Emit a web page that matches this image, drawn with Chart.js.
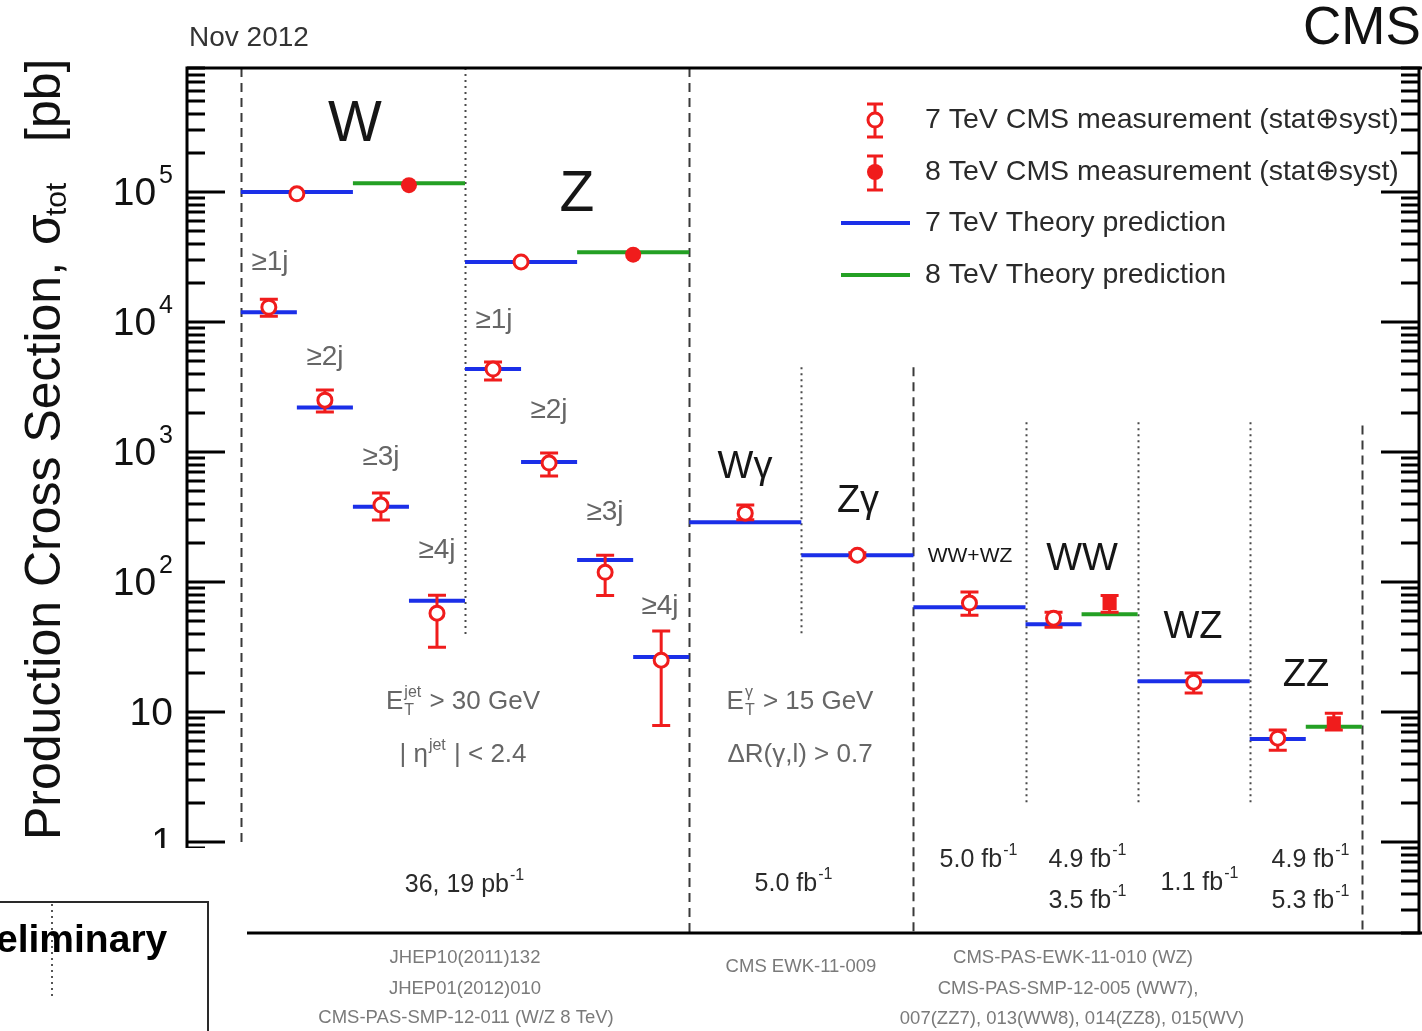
<!DOCTYPE html>
<html>
<head>
<meta charset="utf-8">
<title>CMS production cross sections - Nov 2012</title>
<script src="https://cdn.jsdelivr.net/npm/chart.js@4.4.1/dist/chart.umd.min.js"></script>
<style>
  html, body { margin: 0; padding: 0; background: #fff; }
  #wrap { width: 1422px; height: 1031px; }
</style>
</head>
<body>
<div id="wrap"><canvas id="xsec" width="1422" height="1031"></canvas></div>
<script>
// --------------------
// Data (pb), category axis: one unit per process block
// --------------------

// 7 TeV theory predictions: segment start / end on the category axis, value
const th7Start = [0, 0, 0.5, 1, 1.5, 2, 2, 2.5, 3, 3.5, 4, 5, 6, 7, 8, 9];
const th7End   = [1, 0.5, 1, 1.5, 2, 3, 2.5, 3, 3.5, 4, 5, 6, 7, 7.5, 9, 9.5];
const th7Value = [1.0e5, 1.19e4, 2.2e3, 380, 72, 2.9e4, 4.35e3, 838, 148, 26.5, 289, 161, 64, 47.5, 17.3, 6.2];

// 8 TeV theory predictions
const th8Start = [1, 3, 7.5, 9.5];
const th8End   = [2, 4, 8, 10];
const th8Value = [1.17e5, 3.45e4, 56.7, 7.7];

// 7 TeV CMS measurements (stat+syst)
const m7X    = [0.5, 0.25, 0.75, 1.25, 1.75, 2.5, 2.25, 2.75, 3.25, 3.75, 4.5, 5.5, 6.5, 7.25, 8.5, 9.25];
const m7Val  = [9.7e4, 1.30e4, 2.51e3, 391, 57.7, 2.9e4, 4.35e3, 823, 119, 25.1, 339, 161, 69, 52.8, 17.0, 6.3];
const m7Low  = [9.7e4, 1.11e4, 2.03e3, 300, 31.6, 2.9e4, 3.58e3, 654, 79, 7.9, 302, 155, 55.7, 45, 14, 5.1];
const m7High = [9.7e4, 1.50e4, 3.0e3, 484, 79.4, 2.9e4, 4.92e3, 982, 161, 42, 391, 168, 83.8, 58.7, 20, 7.3];

// 8 TeV CMS measurements (stat+syst)
const m8X    = [1.5, 3.5, 7.75, 9.75];
const m8Val  = [1.13e5, 3.3e4, 69, 8.2];
const m8Low  = [1.13e5, 3.3e4, 58.7, 7.3];
const m8High = [1.13e5, 3.3e4, 79, 9.8];
const m8Shape = ["circle", "circle", "rect", "rect"];

// y axis decades
const tickValues = [1, 10, 100, 1e3, 1e4, 1e5];
const tickBase   = ["1", "10", "10", "10", "10", "10"];
const tickExp    = ["", "", "2", "3", "4", "5"];

// block separators: category position, extent in pb, style
const sepX    = [0, 2, 4, 5, 6, 7, 8, 9, 10];
const sepFrom = [0.2, 39, 0.2, 39, 0.2, 1.93, 1.93, 1.93, 0.2];
const sepTo   = [9e5, 9e5, 9e5, 4.5e3, 4.5e3, 1.7e3, 1.7e3, 1.7e3, 1.6e3];
const sepKind = ["dash", "dot", "dash", "dot", "dash", "dot", "dot", "dot", "dash"];

const FONT = "'Liberation Sans', Arial, Helvetica, sans-serif";
const RED = "#f01c1c";
const BLUE = "#1b2fe8";
const GREEN = "#24a024";

// build line-segment data with gaps
function segments(starts, ends, values) {
    const pts = [];
    starts.forEach((s, i) => {
        pts.push({ x: s, y: values[i] });
        pts.push({ x: ends[i], y: values[i] });
        pts.push({ x: ends[i], y: null });
    });
    return pts;
}

// text with super/subscripts; parts are strings or {sup, sub}
function drawRich(ctx, parts, x, y, size, align, color, weight) {
    const small = Math.round(size * 0.62);
    const w = weight || "normal";
    const widths = parts.map(p => {
        if (typeof p === "string") {
            ctx.font = `${w} ${size}px ${FONT}`;
            return ctx.measureText(p).width;
        }
        ctx.font = `${w} ${small}px ${FONT}`;
        const a = p.sup ? ctx.measureText(p.sup).width : 0;
        const b = p.sub ? ctx.measureText(p.sub).width : 0;
        return Math.max(a, b) + 2;
    });
    const total = widths.reduce((a, b) => a + b, 0);
    let cx = align === "center" ? x - total / 2 : align === "right" ? x - total : x;
    ctx.fillStyle = color;
    ctx.textAlign = "left";
    ctx.textBaseline = "middle";
    parts.forEach((p, i) => {
        if (typeof p === "string") {
            ctx.font = `${w} ${size}px ${FONT}`;
            ctx.fillText(p, cx, y);
        } else {
            ctx.font = `${w} ${small}px ${FONT}`;
            if (p.sup) ctx.fillText(p.sup, cx + 1, y - size * 0.36);
            if (p.sub) ctx.fillText(p.sub, cx + 1, y + size * 0.32);
        }
        cx += widths[i];
    });
}

function errorBar(ctx, x, yTop, yBot, cap) {
    ctx.beginPath();
    ctx.moveTo(x, yTop); ctx.lineTo(x, yBot);
    ctx.moveTo(x - cap, yTop); ctx.lineTo(x + cap, yTop);
    ctx.moveTo(x - cap, yBot); ctx.lineTo(x + cap, yBot);
    ctx.stroke();
}

// --------------------
// Plugin: frame, ticks, separators, error bars, annotations
// --------------------
const cmsDecor = {
    id: "cmsDecor",

    beforeDatasetsDraw(chart) {
        const ctx = chart.ctx;
        const xs = chart.scales.x, ys = chart.scales.y;
        ctx.save();
        sepX.forEach((v, i) => {
            const px = Math.round(xs.getPixelForValue(v)) + 0.5;
            ctx.beginPath();
            if (sepKind[i] === "dash") {
                ctx.setLineDash([9, 6]);
                ctx.strokeStyle = "#3a3a3a";
                ctx.lineWidth = 2;
            } else {
                ctx.setLineDash([2, 4]);
                ctx.strokeStyle = "#4a4a4a";
                ctx.lineWidth = 2;
            }
            ctx.moveTo(px, ys.getPixelForValue(sepTo[i]));
            ctx.lineTo(px, ys.getPixelForValue(sepFrom[i]));
            ctx.stroke();
        });
        ctx.restore();
    },

    afterDatasetDraw(chart, args) {
        if (args.meta.label !== "8 TeV Theory prediction") return;
        const ctx = chart.ctx;
        const xs = chart.scales.x, ys = chart.scales.y;
        ctx.save();
        ctx.strokeStyle = RED;
        ctx.lineWidth = 3;
        m7X.forEach((v, i) => {
            if (m7Low[i] === m7High[i]) return;
            errorBar(ctx, xs.getPixelForValue(v), ys.getPixelForValue(m7High[i]), ys.getPixelForValue(m7Low[i]), 9);
        });
        m8X.forEach((v, i) => {
            if (m8Low[i] === m8High[i]) return;
            errorBar(ctx, xs.getPixelForValue(v), ys.getPixelForValue(m8High[i]), ys.getPixelForValue(m8Low[i]), 9);
        });
        ctx.restore();
    },

    afterDraw(chart) {
        const ctx = chart.ctx;
        const ys = chart.scales.y;
        const a = chart.chartArea;
        ctx.save();

        // ROOT style ticks on both sides
        ctx.strokeStyle = "#000";
        ctx.lineWidth = 3;
        ctx.beginPath();
        for (let e = -1; e <= 5; e++) {
            for (let m = 1; m <= 9; m++) {
                const v = m * Math.pow(10, e);
                if (v < ys.min || v > ys.max) continue;
                const py = Math.round(ys.getPixelForValue(v));
                const len = m === 1 ? 38 : 18;
                ctx.moveTo(a.left, py); ctx.lineTo(a.left + len, py);
                ctx.moveTo(a.right, py); ctx.lineTo(a.right - len, py);
            }
        }
        ctx.stroke();

        // frame
        ctx.lineWidth = 3;
        ctx.strokeRect(a.left, a.top, a.right - a.left, a.bottom - a.top);
        ctx.beginPath();
        ctx.moveTo(a.right, a.top); ctx.lineTo(1422, a.top);
        ctx.moveTo(a.right, a.bottom); ctx.lineTo(1422, a.bottom);
        ctx.stroke();

        // y tick labels
        tickValues.forEach((v, i) => {
            const py = ys.getPixelForValue(v);
            let right = 173;
            if (tickExp[i]) {
                ctx.font = `25px ${FONT}`;
                const ew = ctx.measureText(tickExp[i]).width;
                ctx.fillStyle = "#111";
                ctx.textAlign = "left";
                ctx.textBaseline = "middle";
                ctx.fillText(tickExp[i], right - ew, py - 16);
                right = right - ew - 3;
            }
            ctx.font = `39px ${FONT}`;
            ctx.fillStyle = "#111";
            ctx.textAlign = "right";
            ctx.textBaseline = "middle";
            ctx.fillText(tickBase[i], right, py + 2);
        });

        // y axis title (rotated)
        ctx.save();
        ctx.translate(46, 0);
        ctx.rotate(-Math.PI / 2);
        ctx.fillStyle = "#111";
        ctx.textBaseline = "middle";
        ctx.textAlign = "left";
        ctx.font = `50px ${FONT}`;
        ctx.fillText("Production Cross Section,", -840, 0);
        ctx.fillText("\u03c3", -245, 0);
        ctx.font = `30px ${FONT}`;
        ctx.fillText("tot", -216, 12);
        ctx.font = `50px ${FONT}`;
        ctx.fillText("[pb]", -142, 0);
        ctx.restore();

        // header
        ctx.fillStyle = "#333";
        ctx.font = `28px ${FONT}`;
        ctx.textAlign = "left";
        ctx.textBaseline = "middle";
        ctx.fillText("Nov 2012", 189, 38);
        ctx.fillStyle = "#111";
        ctx.font = `53px ${FONT}`;
        ctx.fillText("CMS", 1303, 29);

        // process labels
        const big = [["W", 355, 125, 57], ["Z", 577, 195, 57],
                     ["W\u03b3", 745, 468, 38], ["Z\u03b3", 858, 502, 38],
                     ["WW+WZ", 970, 556, 21], ["WW", 1082, 560, 38],
                     ["WZ", 1193, 628, 38], ["ZZ", 1306, 676, 38]];
        big.forEach(t => {
            ctx.fillStyle = "#161616";
            ctx.font = `${t[3]}px ${FONT}`;
            ctx.textAlign = "center";
            ctx.fillText(t[0], t[1], t[2]);
        });
        const jets = [["\u22651j", 270, 262], ["\u22652j", 325, 357], ["\u22653j", 381, 457], ["\u22654j", 437, 550],
                      ["\u22651j", 494, 320], ["\u22652j", 549, 410], ["\u22653j", 605, 512], ["\u22654j", 660, 606]];
        jets.forEach(t => {
            ctx.fillStyle = "#666";
            ctx.font = `28px ${FONT}`;
            ctx.textAlign = "center";
            ctx.fillText(t[0], t[1], t[2]);
        });

        // selection cuts
        drawRich(ctx, ["E", { sup: "jet", sub: "T" }, " > 30 GeV"], 463, 702, 26, "center", "#666");
        drawRich(ctx, ["| \u03b7", { sup: "jet" }, " | < 2.4"], 463, 755, 26, "center", "#666");
        drawRich(ctx, ["E", { sup: "\u03b3", sub: "T" }, " > 15 GeV"], 800, 702, 26, "center", "#666");
        drawRich(ctx, ["\u0394R(\u03b3,l) > 0.7"], 800, 755, 26, "center", "#666");

        // luminosities
        const lumi = [["36, 19 pb", 465, 885], ["5.0 fb", 794, 884], ["5.0 fb", 979, 860],
                      ["4.9 fb", 1088, 860], ["3.5 fb", 1088, 901], ["1.1 fb", 1200, 883],
                      ["4.9 fb", 1311, 860], ["5.3 fb", 1311, 901]];
        lumi.forEach(t => drawRich(ctx, [t[0], { sup: "-1" }], t[1], t[2], 25, "center", "#2a2a2a"));

        // references below the axis
        const refs = [["JHEP10(2011)132", 465, 958], ["JHEP01(2012)010", 465, 989],
                      ["CMS-PAS-SMP-12-011 (W/Z 8 TeV)", 466, 1018], ["CMS EWK-11-009", 801, 967],
                      ["CMS-PAS-EWK-11-010 (WZ)", 1073, 958], ["CMS-PAS-SMP-12-005 (WW7),", 1068, 989],
                      ["007(ZZ7), 013(WW8), 014(ZZ8), 015(WV)", 1072, 1019]];
        refs.forEach(t => {
            ctx.fillStyle = "#7a7a7a";
            ctx.font = `18.5px ${FONT}`;
            ctx.textAlign = "center";
            ctx.fillText(t[0], t[1], t[2]);
        });

        // legend
        const lx = 875;
        const rows = [120, 172, 223, 275];
        ctx.strokeStyle = RED;
        ctx.lineWidth = 3;
        errorBar(ctx, lx, rows[0] - 16, rows[0] + 17, 8);
        ctx.beginPath();
        ctx.arc(lx, rows[0], 7, 0, Math.PI * 2);
        ctx.fillStyle = "#fff";
        ctx.fill();
        ctx.stroke();
        errorBar(ctx, lx, rows[1] - 16, rows[1] + 18, 8);
        ctx.beginPath();
        ctx.arc(lx, rows[1], 8, 0, Math.PI * 2);
        ctx.fillStyle = RED;
        ctx.fill();
        ctx.lineWidth = 4;
        ctx.strokeStyle = BLUE;
        ctx.beginPath(); ctx.moveTo(841, rows[2]); ctx.lineTo(910, rows[2]); ctx.stroke();
        ctx.strokeStyle = GREEN;
        ctx.beginPath(); ctx.moveTo(841, rows[3]); ctx.lineTo(910, rows[3]); ctx.stroke();
        const legTxt = ["7 TeV CMS measurement (stat\u2295syst)", "8 TeV CMS measurement (stat\u2295syst)",
                        "7 TeV Theory prediction", "8 TeV Theory prediction"];
        legTxt.forEach((t, i) => {
            ctx.fillStyle = "#2a2a2a";
            ctx.font = `28.5px ${FONT}`;
            ctx.textAlign = "left";
            ctx.textBaseline = "middle";
            ctx.fillText(t, 925, rows[i]);
        });

        // overlapping window fragment in the lower-left corner
        ctx.fillStyle = "#fff";
        ctx.fillRect(0, 848, 247, 1031 - 848);
        ctx.strokeStyle = "#2a2a2a";
        ctx.lineWidth = 2;
        ctx.beginPath();
        ctx.moveTo(0, 902); ctx.lineTo(208, 902); ctx.lineTo(208, 1031);
        ctx.stroke();
        ctx.setLineDash([2, 4]);
        ctx.strokeStyle = "#555";
        ctx.beginPath(); ctx.moveTo(52, 904); ctx.lineTo(52, 998); ctx.stroke();
        ctx.setLineDash([]);
        ctx.fillStyle = "#000";
        ctx.font = `bold 39px ${FONT}`;
        ctx.textAlign = "left";
        ctx.textBaseline = "alphabetic";
        ctx.fillText("eliminary", -4, 952);

        ctx.restore();
    }
};

// --------------------
// Chart
// --------------------
const ctx = document.getElementById("xsec").getContext("2d");

new Chart(ctx, {
    type: "scatter",
    data: {
        datasets: [
            {
                label: "7 TeV Theory prediction",
                type: "line",
                data: segments(th7Start, th7End, th7Value),
                borderColor: BLUE,
                borderWidth: 4,
                pointRadius: 0,
                spanGaps: false,
                order: 3
            },
            {
                label: "8 TeV Theory prediction",
                type: "line",
                data: segments(th8Start, th8End, th8Value),
                borderColor: GREEN,
                borderWidth: 4,
                pointRadius: 0,
                spanGaps: false,
                order: 2
            },
            {
                label: "7 TeV CMS measurement",
                data: m7X.map((x, i) => ({ x, y: m7Val[i] })),
                pointStyle: "circle",
                pointRadius: 7,
                borderWidth: 3,
                borderColor: RED,
                backgroundColor: "#fff",
                order: 1
            },
            {
                label: "8 TeV CMS measurement",
                data: m8X.map((x, i) => ({ x, y: m8Val[i] })),
                pointStyle: c => m8Shape[c.dataIndex],
                pointRadius: c => m8Shape[c.dataIndex] === "rect" ? 10 : 8,
                borderWidth: 0,
                borderColor: RED,
                backgroundColor: RED,
                order: 0
            }
        ]
    },
    options: {
        responsive: false,
        animation: false,
        layout: { autoPadding: false, padding: { left: 187, top: 68, right: 3, bottom: 98 } },
        scales: {
            x: { type: "linear", min: -0.48, max: 10.51, display: false },
            y: { type: "logarithmic", min: 0.2, max: 9e5, display: false }
        },
        plugins: {
            legend: { display: false },
            tooltip: { enabled: false }
        }
    },
    plugins: [cmsDecor]
});
</script>
</body>
</html>
